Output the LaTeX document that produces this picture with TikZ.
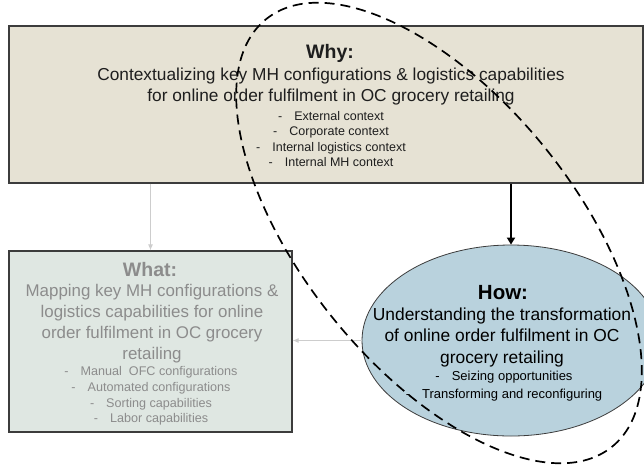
\documentclass[tikz,border=0pt]{standalone}
\usepackage{fontspec}
\setmainfont{Liberation Sans}
\usetikzlibrary{shapes.geometric,arrows.meta}
\definecolor{whyfill}{RGB}{230,226,212}
\definecolor{whatfill}{RGB}{223,231,226}
\definecolor{howfill}{RGB}{185,210,221}
\definecolor{boxline}{RGB}{60,60,60}
\definecolor{fadetext}{RGB}{140,140,140}
\definecolor{fadearrow}{RGB}{205,205,205}
\definecolor{darktext}{RGB}{30,30,30}
\tikzset{
  whybox/.style={draw=boxline, line width=1.1pt, fill=whyfill, minimum width=634pt, minimum height=157pt, inner sep=0pt},
  whatbox/.style={draw=boxline, line width=1.1pt, fill=whatfill, minimum width=283pt, minimum height=181pt, inner sep=0pt},
  howell/.style={ellipse, draw=boxline, line width=0.8pt, fill=howfill, minimum width=298pt, minimum height=191pt, inner sep=0pt},
  scopeell/.style={ellipse, draw=black, line width=1.7pt, dash pattern=on 10pt off 6pt, minimum width=550pt, minimum height=272pt, inner sep=0pt, rotate=-51},
  titletxt/.style={font=\fontsize{19.5}{21}\selectfont\bfseries, inner sep=0pt},
  maintxt/.style={font=\fontsize{17.3}{21}\selectfont, align=center, inner sep=0pt},
  bullettxt/.style={font=\fontsize{12.5}{15.6}\selectfont, align=center, inner sep=0pt},
  grayarr/.style={draw=fadearrow, line width=1pt, -{Latex[length=6pt,width=5pt]}},
  blackarr/.style={draw=black, line width=1.8pt, -{Triangle[length=7pt,width=8pt]}}
}
\begin{document}
\begin{tikzpicture}[x=1pt,y=-1pt]
\useasboundingbox (0,0) rectangle (644,466);
\clip (0,0) rectangle (644,466);
% boxes
\node[whybox] (why) at (326,104.5) {};
\node[whatbox] (what) at (150.5,341.5) {};
\node[howell] (how) at (511,340.5) {};
% connectors
\draw[grayarr] (why.south -| what.north) -- (what.north);
\draw[blackarr] (why.south -| how.north) -- (how.north);
\draw[grayarr] (how.west) -- (what.east |- how.west);
% why text
\node[titletxt, text=darktext] (whyT) at (330,53) {Why:};
\node[maintxt, text=darktext] (whyM) at (331,87) {Contextualizing key MH configurations \& logistics capabilities\\for online order fulfilment in OC grocery retailing};
\node[bullettxt, text=darktext] (whyB) at (331,139) {-\hspace{12pt}External context\\-\hspace{12pt}Corporate context\\-\hspace{12pt}Internal logistics context\\-\hspace{12pt}Internal MH context};
% what text
\node[titletxt, text=fadetext] (whatT) at (150,270) {What:};
\node[maintxt, font=\fontsize{16.9}{21}\selectfont, text=fadetext] (whatM) at (152,324) {Mapping key MH configurations \&\\logistics capabilities for online\\order fulfilment in OC grocery\\retailing};
\node[bullettxt, font=\fontsize{12.6}{15.6}\selectfont, text=fadetext] (whatB) at (151,396) {-\hspace{12pt}Manual\ \ OFC configurations\\-\hspace{12pt}Automated configurations\\-\hspace{12pt}Sorting capabilities\\-\hspace{12pt}Labor capabilities};
% how text
\node[titletxt, font=\fontsize{20.5}{21}\selectfont\bfseries, text=black] (howT) at (503,293) {How:};
\node[maintxt, font=\fontsize{17.4}{21.5}\selectfont, text=black] (howM) at (502,337) {Understanding the transformation\\of online order fulfilment in OC\\grocery retailing};
\node[bullettxt, font=\fontsize{13}{18}\selectfont, text=black] (howB) at (504,386) {-\hspace{12pt}Seizing opportunities\\-\hspace{12pt}Transforming and reconfiguring};
% dashed scope ellipse
\node[scopeell] (scope) at (439,233) {};
\end{tikzpicture}
\end{document}
